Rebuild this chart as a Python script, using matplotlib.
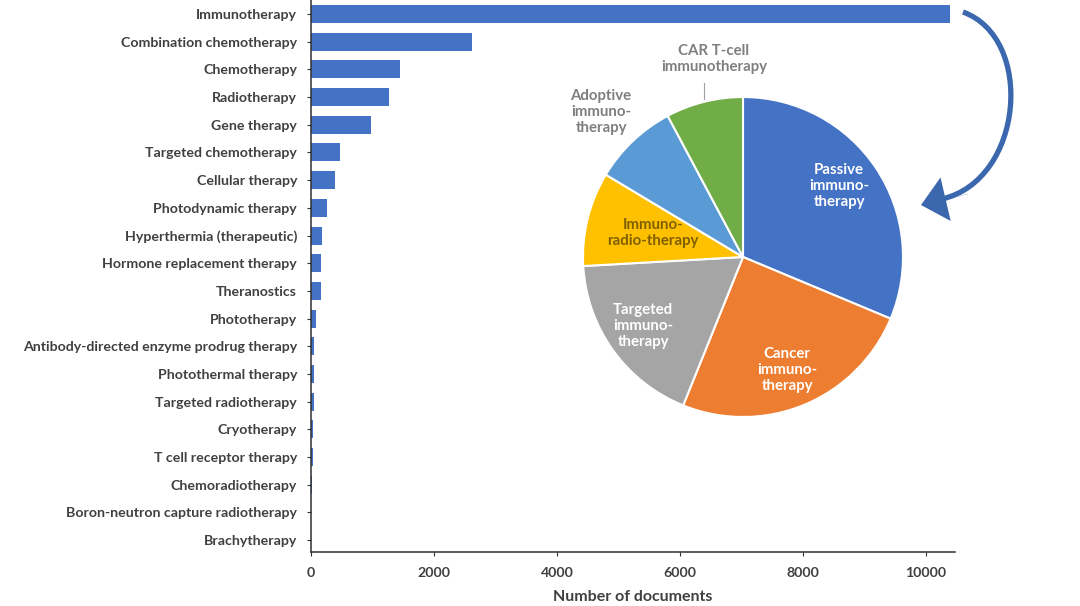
import matplotlib.pyplot as plt
from matplotlib.patches import FancyArrowPatch, PathPatch
from matplotlib.path import Path

plt.rcParams["font.family"] = ["Lato", "DejaVu Sans"]
plt.rcParams["font.weight"] = "bold"

# bar data (number of documents)
therapies = [
    "Immunotherapy",
    "Combination chemotherapy",
    "Chemotherapy",
    "Radiotherapy",
    "Gene therapy",
    "Targeted chemotherapy",
    "Cellular therapy",
    "Photodynamic therapy",
    "Hyperthermia (therapeutic)",
    "Hormone replacement therapy",
    "Theranostics",
    "Phototherapy",
    "Antibody-directed enzyme prodrug therapy",
    "Photothermal therapy",
    "Targeted radiotherapy",
    "Cryotherapy",
    "T cell receptor therapy",
    "Chemoradiotherapy",
    "Boron-neutron capture radiotherapy",
    "Brachytherapy",
]
documents = [10390, 2620, 1450, 1270, 980, 475, 390, 265, 180, 165,
             160, 80, 55, 45, 48, 30, 28, 15, 8, 6]
x_ticks = [0, 2000, 4000, 6000, 8000, 10000]

# pie data (share of immunotherapy, %)
pie_labels = [
    "Passive\nimmuno-\ntherapy",
    "Cancer\nimmuno-\ntherapy",
    "Targeted\nimmuno-\ntherapy",
    "Immuno-\nradio-therapy",
    "Adoptive\nimmuno-\ntherapy",
    "CAR T-cell\nimmunotherapy",
]
pie_shares = [31.3, 24.8, 18.0, 9.5, 8.6, 7.8]
pie_colors = ["#4472C4", "#ED7D31", "#A5A5A5", "#FFC000", "#5B9BD5", "#70AD47"]
text_dark = "#404040"

fig = plt.figure(figsize=(10.8, 6.06), dpi=100)

# bar chart
ax = fig.add_axes([311 / 1080, 1 - 552 / 606, 644 / 1080, 552 / 606])
pos = list(range(len(therapies)))
ax.barh(pos, documents, height=0.65, color="#4472C4")
ax.set_ylim(19.43, -0.506)
ax.set_xlim(0, 10470)
ax.set_yticks(pos)
ax.set_yticklabels(therapies, fontsize=10.2, color=text_dark, fontweight="bold")
ax.set_xticks(x_ticks)
ax.set_xticklabels([str(t) for t in x_ticks], fontsize=10.2, color=text_dark, fontweight="bold")
ax.set_xlabel("Number of documents", fontsize=11.5, color=text_dark, fontweight="bold", labelpad=8)
ax.spines["top"].set_visible(False)
ax.spines["right"].set_visible(False)
for s in ["left", "bottom"]:
    ax.spines[s].set_color("#303030")
    ax.spines[s].set_linewidth(1.1)
ax.tick_params(axis="y", length=3, color="#303030", pad=7)
ax.tick_params(axis="x", length=3, color="#303030", pad=8)

# pie chart
cx, cy, r = 743, 257, 160
pax = fig.add_axes([(cx - r) / 1080, 1 - (cy + r) / 606, 2 * r / 1080, 2 * r / 606])
wedges, _ = pax.pie(
    pie_shares,
    colors=pie_colors,
    startangle=90,
    counterclock=False,
    radius=1.0,
    wedgeprops=dict(edgecolor="white", linewidth=1.5),
)
pax.set_xlim(-1, 1)
pax.set_ylim(-1, 1)
pax.set_aspect("auto")
pax.axis("off")


def fig_xy(px, py):
    return px / 1080, 1 - py / 606


label_spots = [
    (839, 186, "white"),
    (787, 370, "white"),
    (643, 326, "white"),
    (653, 233, "#7F6000"),
    (601, 112, "#7F7F7F"),
    (714, 59, "#7F7F7F"),
]
for lab, (px, py, col) in zip(pie_labels, label_spots):
    fx, fy = fig_xy(px, py)
    fig.text(fx, fy, lab, ha="center", va="center", fontsize=10.8, color=col,
             fontweight="bold", linespacing=1.2)

# leader line for CAR T-cell label
lx0, ly0 = fig_xy(704, 83)
lx1, ly1 = fig_xy(704, 99)
fig.add_artist(plt.Line2D([lx0, lx1], [ly0, ly1], color="#A0A0A0", linewidth=0.8))

# curved arrow from the immunotherapy bar to the pie: tail + head
arrow_col = "#3A67AE"
tail_pts = [fig_xy(963, 12), fig_xy(1035, 38), fig_xy(1024, 180), fig_xy(942, 199)]
tail = PathPatch(
    Path(tail_pts, [Path.MOVETO, Path.CURVE4, Path.CURVE4, Path.CURVE4]),
    facecolor="none", edgecolor=arrow_col, linewidth=3.8, capstyle="butt",
    transform=fig.transFigure,
)
fig.add_artist(tail)
head = FancyArrowPatch(
    posA=fig_xy(968, 194), posB=fig_xy(921, 205),
    arrowstyle="simple,head_length=1.3,head_width=2.3,tail_width=0.01",
    mutation_scale=14, shrinkA=0, shrinkB=0,
    color=arrow_col, linewidth=0, transform=fig.transFigure,
)
fig.add_artist(head)

fig.savefig("out.png", dpi=100)
